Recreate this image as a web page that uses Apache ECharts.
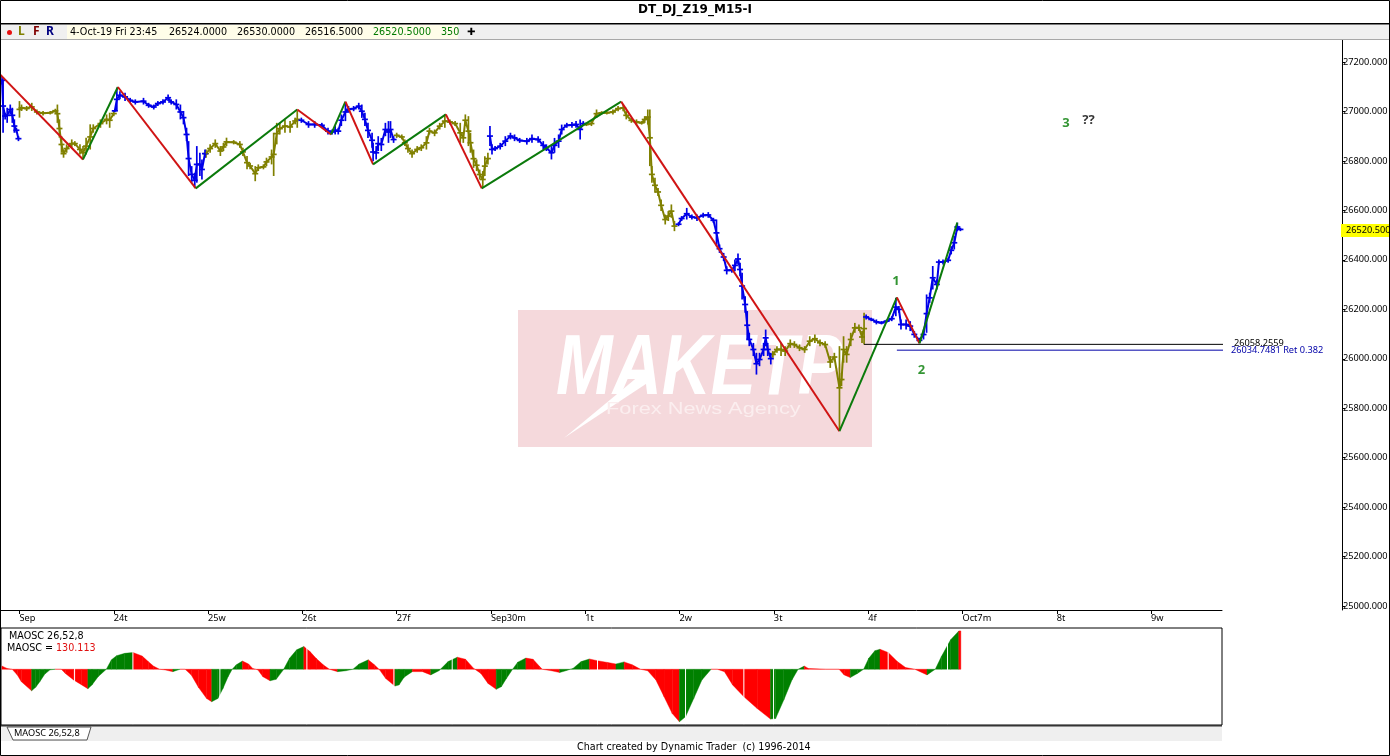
<!DOCTYPE html>
<html><head><meta charset="utf-8">
<style>html,body{margin:0;padding:0;background:#fff;overflow:hidden}#c{width:1390px;height:756px}</style>
<script src="https://cdn.jsdelivr.net/npm/echarts@6/dist/echarts.min.js"></script>
</head><body><div id="c"></div>
<script>
// One unit on the time axis is one 15-minute bar; bar 0 is the start of 23 Sep.
const dayBars = [0,92,184,276,368,460,552,644,736,828,920,1012,1104];
const dayLabels = ['Sep','24t','25w','26t','27f','Sep30m','1t','2w','3t','4f','Oct7m','8t','9w'];
const priceTicks = [25000,25200,25400,25600,25800,26000,26200,26400,26600,26800,27000,27200];

// [bar, high, low]
const blueBars = [
[-17,27143,27109],[-16,27130,26914],[-14,26995,26968],[-12,27015,26954],[-9,27028,26988],[-7,27015,26954],[-5,26968,26914],[-3,26934,26914],[-1,26900,26880],
[93,27008,26997],[95,27096,27002],[98,27082,27049],[103,27076,27042],[108,27055,27035],[113,27049,27028],[121,27055,27028],[126,27035,27015],[131,27028,27008],[135,27042,27022],[140,27049,27028],[145,27069,27042],[148,27049,27028],[153,27049,27008],[157,27028,26968],[160,27002,26948],[163,26934,26880],[165,26880,26739],[168,26779,26712],[171,26752,26691],[173,26860,26712],[176,26833,26739],[178,26806,26725],[181,26846,26813],
[275,26975,26954],[282,26961,26934],[288,26961,26934],[295,26954,26934],[301,26934,26907],[305,26927,26907],[308,26941,26907],[311,26934,26907],[314,26988,26941],[318,27035,26961],[321,27022,26995],[326,27022,27001],[331,27035,27008],[334,27028,26974],[337,26995,26941],[340,26954,26893],[344,26914,26853],[345,26873,26799],[348,26860,26806],[350,26900,26840],[353,26893,26840],[357,26954,26900],[360,26961,26873],[362,26961,26893],[365,26900,26873],
[459,26941,26860],[461,26867,26826],[464,26860,26840],[469,26873,26846],[474,26900,26860],[479,26914,26887],[483,26907,26880],[488,26893,26873],[495,26893,26866],[500,26907,26873],[506,26900,26873],[511,26880,26846],[514,26867,26840],[519,26860,26806],[522,26893,26833],[526,26907,26853],[529,26947,26907],[534,26954,26934],[539,26957,26934],[543,26961,26934],[547,26968,26887],[550,26961,26941],
[643,26552,26536],[646,26577,26557],[651,26610,26563],[656,26583,26563],[661,26583,26557],[667,26590,26570],[672,26593,26570],[677,26570,26550],[680,26563,26455],[683,26462,26428],[687,26428,26395],[690,26374,26341],[695,26368,26348],[698,26401,26354],[701,26426,26381],[703,26388,26334],[705,26348,26240],[708,26253,26186],[710,26193,26078],[712,26105,26051],[716,26064,26011],[719,26024,25936],[722,26024,25970],[726,26064,26011],[728,26118,26051],[730,26064,26011],[733,26024,25977],
[826,26179,26159],[831,26166,26152],[836,26159,26139],[841,26152,26139],[846,26159,26145],[851,26172,26152],[855,26246,26172],[858,26213,26186],[860,26159,26118],[865,26159,26118],[869,26152,26112],[873,26112,26085],[878,26085,26064],[882,26118,26078],[885,26260,26105],[888,26267,26226],[891,26375,26280],[895,26321,26280],[897,26401,26381],[901,26401,26381],[906,26408,26388],[909,26455,26422],[912,26496,26442],[915,26550,26516],[918,26530,26516]
];
const oliveBars = [
[0,27042,26975],[2,27028,27002],[7,27022,27002],[12,27035,27002],[17,27008,26988],[23,27002,26984],[30,27002,26988],[35,27011,26995],[37,27028,26954],[39,26968,26894],[41,26900,26833],[43,26846,26813],[46,26867,26833],[51,26887,26853],[54,26880,26860],[59,26867,26826],[62,26860,26806],[65,26894,26826],[69,26948,26846],[72,26948,26914],[79,26968,26934],[85,26988,26948],[88,26995,26934],[92,27002,26981],
[182,26846,26813],[186,26867,26833],[191,26887,26853],[196,26860,26820],[199,26873,26840],[202,26894,26860],[209,26884,26867],[215,26880,26853],[218,26853,26820],[222,26820,26766],[225,26793,26766],[230,26779,26718],[233,26786,26759],[238,26786,26766],[241,26813,26779],[246,26846,26786],[248,26914,26739],[251,26954,26867],[254,26954,26907],[259,26968,26914],[264,26961,26914],[269,26975,26948],[271,27002,26934],
[368,26914,26893],[373,26907,26887],[376,26887,26860],[379,26867,26833],[383,26846,26813],[388,26860,26833],[392,26867,26840],[397,26900,26846],[400,26934,26907],[405,26927,26900],[410,26954,26927],[415,26988,26934],[420,26968,26947],[425,26961,26941],[430,26954,26873],[433,26914,26873],[435,26988,26941],[438,26981,26860],[440,26914,26833],[443,26846,26772],[446,26806,26759],[449,26765,26725],[452,26759,26691],[454,26819,26739],[457,26833,26786],
[553,26954,26941],[558,26961,26941],[563,27008,26974],[568,27001,26988],[573,27001,26988],[579,27008,26988],[584,27022,27001],[589,27028,27001],[592,27001,26968],[597,26974,26954],[602,26968,26947],[607,26961,26947],[610,26981,26954],[613,27008,26947],[615,27008,26779],[617,26779,26712],[620,26732,26671],[623,26691,26658],[626,26644,26597],[630,26583,26543],[633,26597,26557],[636,26624,26570],[639,26557,26516],
[735,26031,26004],[739,26051,26024],[743,26064,26011],[747,26051,26011],[752,26078,26044],[756,26071,26044],[761,26058,26031],[766,26051,26024],[771,26091,26051],[776,26098,26064],[781,26078,26051],[786,26071,26044],[791,26011,25963],[795,26024,25990],[800,26051,25714],[802,25943,25889],[804,26091,25984],[807,26051,25984],[811,26105,26051],[815,26145,26105],[819,26139,26112],[822,26112,26064],[824,26186,26058]
];
// Swing pivots [bar, price]
const swingPivots = [[-19,27150],[62,26806],[96,27099],[172,26689],[271,27008],[304,26907],[318,27040],[345,26786],[416,26988],[451,26689],[587,27040],[800,25707],[856,26248],[878,26062],[915,26551]];
// Retracement levels
const retraceBlack = [[824,26058.2559],[1177,26058.2559]];
const retraceBlue = [[856,26034.7481],[1177,26034.7481]];
// Wave labels [bar, price, text]
const waveLabels = [[855,26315,'1'],[880,25955,'2'],[1021,26953,'3']];
const questionLabel = [[1043,26965,'??']];
const lastPrice = 26520.5;

// MAOSC samples [bar, value]
const oscSamples = [[-19,11],[-14,3],[-9,0],[-4,-19],[0,-42],[10,-73],[14,-61],[18,-42],[23,-16],[28,-2],[33,0],[39,0],[43,-14],[51,-36],[59,-53],[65,-66],[69,-53],[75,-25],[83,0],[88,32],[93,46],[101,54],[109,57],[118,45],[124,26],[129,11],[135,0],[140,-2],[148,-8],[155,0],[160,0],[166,-19],[173,-61],[181,-99],[186,-110],[192,-99],[197,-65],[202,-25],[206,0],[210,15],[216,28],[222,18],[226,3],[231,-2],[236,-25],[243,-39],[249,-34],[256,-2],[262,37],[269,66],[276,77],[282,60],[288,37],[295,15],[301,0],[309,-8],[317,-5],[324,0],[330,18],[339,32],[345,15],[350,-2],[356,-31],[365,-57],[369,-53],[374,-27],[382,-8],[392,-8],[400,-19],[408,-5],[417,26],[426,41],[434,34],[442,3],[449,-14],[456,-48],[464,-68],[469,-59],[474,-31],[480,0],[485,24],[493,38],[500,34],[506,11],[509,0],[518,-5],[526,-11],[532,-5],[539,3],[547,26],[555,35],[563,29],[573,23],[581,18],[589,25],[597,15],[605,0],[612,-5],[620,-36],[628,-93],[636,-150],[643,-178],[649,-161],[657,-99],[665,-36],[674,0],[680,0],[687,-8],[695,-53],[706,-93],[719,-133],[732,-169],[737,-167],[745,-104],[753,-36],[759,0],[765,11],[769,3],[786,0],[799,0],[804,-19],[810,-28],[817,-14],[823,0],[828,37],[834,63],[839,68],[847,57],[856,26],[864,6],[873,0],[885,-19],[893,0],[899,43],[908,100],[916,130],[918,130]];
const oscGapBars = [52,109,194,279,364,421,563,649,706,735,847,905];

const FONT = '"DejaVu Sans", sans-serif';
const AXFONT = '"Noto Sans", sans-serif';
const FS = 9.6, AXFS = 9.2;
const OLIVE = '#808000', BLUE = '#0000e8', RED = '#d01414', GREEN = '#0b7a0b';

function rangeSeries(rows, color) {
  return {
    type: 'custom', xAxisIndex: 0, yAxisIndex: 0, z: 3, silent: true,
    data: rows, encode: {x: 0, y: [1, 2]},
    renderItem(p, api) {
      const x = api.value(0), hi = api.coord([x, api.value(1)]), lo = api.coord([x, api.value(2)]);
      const my = (hi[1] + lo[1]) / 2;
      const st = {stroke: color, lineWidth: 1.7, fill: null};
      return {type: 'group', children: [
        {type: 'line', shape: {x1: hi[0], y1: hi[1], x2: lo[0], y2: lo[1]}, style: st},
        {type: 'line', shape: {x1: hi[0] - 3, y1: my, x2: hi[0] + 3, y2: my}, style: st}
      ]};
    }
  };
}
function pathSeries(rows, color) {
  const data = [];
  rows.forEach((r, i) => {
    if (i && r[0] - rows[i - 1][0] > 20) data.push([r[0], '-']);
    data.push([r[0], (r[1] + r[2]) / 2]);
  });
  return {type: 'line', xAxisIndex: 0, yAxisIndex: 0, z: 3, silent: true, symbol: 'none', connectNulls: false,
    lineStyle: {color, width: 2}, data};
}
const swingSeries = swingPivots.slice(1).map((p, i) => ({
  type: 'line', xAxisIndex: 0, yAxisIndex: 0, z: 4, silent: true, symbol: 'none',
  lineStyle: {color: p[1] > swingPivots[i][1] ? GREEN : RED, width: 2},
  data: [swingPivots[i], p]
}));
function levelSeries(rows, color, text, dx, dy) {
  return {type: 'line', xAxisIndex: 0, yAxisIndex: 0, z: 5, silent: true, symbol: 'none', clip: false,
    lineStyle: {color, width: 1}, data: rows,
    endLabel: {show: true, distance: dx, offset: [0, dy], color, formatter: text, fontFamily: AXFONT, fontSize: 9.2}};
}
function labelSeries(rows, color, size) {
  return {type: 'scatter', xAxisIndex: 0, yAxisIndex: 0, z: 6, silent: true, symbolSize: 0, data: rows,
    label: {show: true, position: 'inside', color, fontSize: size, fontWeight: 'bold', fontFamily: '"Noto Sans", sans-serif', formatter: p => p.value[2]}};
}

const oscPairs = oscSamples.slice(1).map((s, i) => [oscSamples[i][0], oscSamples[i][1], s[0], s[1]]);

const chart = echarts.init(document.getElementById('c'), null, {renderer: 'canvas', width: 1390, height: 756});
const txt = (x, y, text, fill, extra) => ({type: 'text', x, y, z: 20, silent: true,
  style: Object.assign({text, fill: fill || '#000', font: FS + 'px ' + FONT, textVerticalAlign: 'middle'}, extra || {})});
const rect = (x, y, w, h, fill, z) => ({type: 'rect', z: z == null ? 1 : z, silent: true, shape: {x, y, width: w, height: h}, style: {fill}});

chart.setOption({
  animation: false,
  backgroundColor: '#fff',
  grid: [
    {left: 0, width: 1222, top: 40, height: 570, outerBoundsMode: 'none'},
    {left: 1, width: 1221, top: 628, height: 97, outerBoundsMode: 'none', show: true, borderColor: '#000', borderWidth: 1, backgroundColor: '#fff'}
  ],
  xAxis: [
    {type: 'value', gridIndex: 0, min: -19, max: 1173.2, position: 'bottom', splitLine: {show: false},
     axisLine: {show: true, onZero: false, lineStyle: {color: '#000', width: 1}},
     axisTick: {show: true, length: 4, customValues: dayBars, lineStyle: {color: '#000'}},
     axisLabel: {show: true, customValues: dayBars, margin: 4, align: 'left', color: '#000', fontFamily: AXFONT, fontSize: AXFS,
       formatter: v => dayLabels[dayBars.indexOf(v)]}},
    {type: 'value', gridIndex: 1, min: -19.9, max: 1173.2, show: false}
  ],
  yAxis: [
    {type: 'value', gridIndex: 0, min: 24984, max: 27289, position: 'right', offset: 120, splitLine: {show: false},
     axisLine: {show: true, onZero: false, lineStyle: {color: '#000', width: 1}},
     axisTick: {show: true, length: 3, customValues: priceTicks, lineStyle: {color: '#000'}},
     axisLabel: {show: true, customValues: priceTicks, margin: 1, padding: [2, 0, 0, 0], color: '#000', fontFamily: AXFONT, fontSize: AXFS,
       formatter: v => v.toFixed(3)}},
    {type: 'value', gridIndex: 1, min: -189, max: 140, show: false}
  ],
  graphic: {elements: [
    // watermark
    rect(518, 310, 354, 137, '#f5d9dc', -1),
    {type: 'text', z: 0, silent: true, x: 556, y: 328, scaleX: 0.8, style: {text: 'MAKETP', fill: '#fff', font: 'italic bold 85px "Liberation Sans", sans-serif'}},
    {type: 'polygon', z: 0, silent: true, shape: {points: [[564, 438], [640, 375], [655, 378]]}, style: {fill: '#fff'}},
    {type: 'text', z: 0, silent: true, x: 606, y: 402, scaleX: 1.36, style: {text: 'Forex News Agency', fill: '#fbeeef', font: '16px "Liberation Sans", sans-serif'}},
    // title and toolbar
    txt(695, 10, 'DT_DJ_Z19_M15-I', '#000', {font: 'bold 12px ' + FONT, textAlign: 'center'}),
    rect(1, 23, 1388, 1.5, '#000', 15),
    rect(1, 24.5, 1388, 15, '#f0f0f0', 14),
    rect(1, 39, 1388, 1, '#a8a8a8', 15),
    rect(67, 25, 391, 14, '#fffde9', 15),
    {type: 'circle', z: 20, silent: true, shape: {cx: 9.5, cy: 32.5, r: 2.5}, style: {fill: '#e81010'}},
    txt(18, 32, 'L', '#808000', {font: 'bold 12px ' + AXFONT}),
    txt(33, 32, 'F', '#800000', {font: 'bold 12px ' + AXFONT}),
    txt(46, 32, 'R', '#000080', {font: 'bold 12px ' + AXFONT}),
    txt(70, 32, '4-Oct-19 Fri 23:45'),
    txt(169, 32, '26524.0000'),
    txt(237, 32, '26530.0000'),
    txt(305, 32, '26516.5000'),
    txt(373, 32, '26520.5000', '#007a00'),
    txt(441, 32, '350', '#007a00'),
    txt(467, 32, '✚', '#000', {font: 'bold 10px "DejaVu Sans"'}),
    // last price tag
    rect(1341, 224, 49, 13, '#ffff00', 15),
    txt(1346, 230.5, lastPrice.toFixed(3), '#000', {font: AXFS + 'px ' + AXFONT}),
    // oscillator legend
    txt(9, 636, 'MAOSC 26,52,8'),
    txt(7, 648, 'MAOSC ='),
    txt(56, 648, '130.113', '#e01010'),
    // tab strip
    rect(1, 726, 1221, 15, '#efefef', 14),
    rect(1, 725, 1221, 1.5, '#333', 15),
    {type: 'polygon', z: 16, silent: true, shape: {points: [[7, 727], [13, 740], [87, 740], [91, 727]]}, style: {fill: '#fff', stroke: '#555', lineWidth: 1}},
    txt(14, 733.5, 'MAOSC 26,52,8', '#000', {font: AXFS + 'px ' + AXFONT}),
    txt(577, 747.5, 'Chart created by Dynamic Trader  (c) 1996-2014'),
    // outer frame
    {type: 'rect', z: 30, silent: true, shape: {x: 0.5, y: 0.5, width: 1389, height: 755}, style: {fill: null, stroke: '#000', lineWidth: 1}}
  ]},
  series: [
    pathSeries(oliveBars, OLIVE), pathSeries(blueBars, BLUE),
    rangeSeries(oliveBars, OLIVE), rangeSeries(blueBars, BLUE),
    ...swingSeries,
    levelSeries(retraceBlack, '#000', '26058.2559', 11, -1),
    levelSeries(retraceBlue, '#0000a8', '26034.7481 Ret 0.382', 8, 0),
    labelSeries(waveLabels, '#007a00', 13),
    labelSeries(questionLabel, '#000', 13),
    {type: 'custom', xAxisIndex: 1, yAxisIndex: 1, z: 3, silent: true, data: oscPairs, encode: {x: [0, 2], y: [1, 3]},
     renderItem(p, api) {
       const x0 = api.value(0), v0 = api.value(1), x1 = api.value(2), v1 = api.value(3);
       return {type: 'polygon', shape: {points: [api.coord([x0, 0]), api.coord([x0, v0]), api.coord([x1, v1]), api.coord([x1, 0])]},
         style: {fill: v1 > v0 ? '#008000' : '#ff0000', stroke: v1 > v0 ? '#008000' : '#ff0000', lineWidth: 0.4}};
     }},
    {type: 'custom', xAxisIndex: 1, yAxisIndex: 1, z: 4, silent: true, data: oscGapBars.map(b => [b]), encode: {x: 0},
     renderItem(p, api) {
       const a = api.coord([api.value(0), 136]), b = api.coord([api.value(0), -186]);
       return {type: 'line', shape: {x1: a[0], y1: a[1], x2: b[0], y2: b[1]}, style: {stroke: '#fff', lineWidth: 1}};
     }}
  ]
});
</script></body></html>
